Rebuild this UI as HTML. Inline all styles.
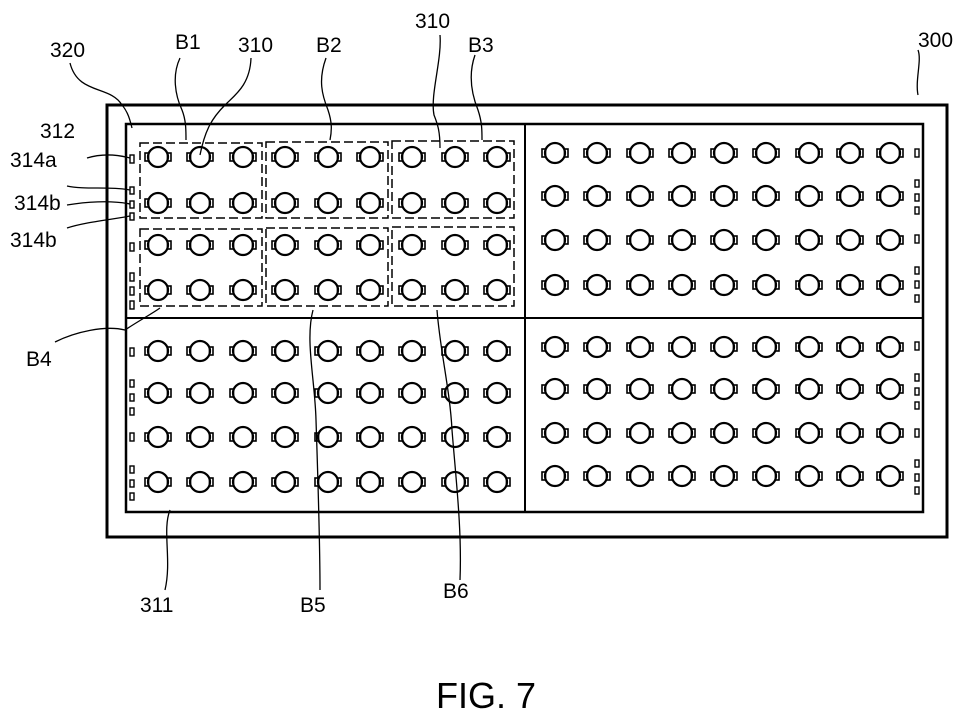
<!DOCTYPE html>
<html><head><meta charset="utf-8"><style>
html,body{margin:0;padding:0;background:#fff;}
svg{display:block;}
text{font-family:"Liberation Sans",sans-serif;font-size:21px;fill:#000;}
</style></head><body>
<svg width="980" height="720" viewBox="0 0 980 720">
<defs>
<g id="led"><circle cx="0" cy="0" r="10" fill="none" stroke="#000" stroke-width="2.2"/><rect x="-13" y="-4" width="3.5" height="8" fill="none" stroke="#000" stroke-width="1.6"/><rect x="9.5" y="-4" width="3.5" height="8" fill="none" stroke="#000" stroke-width="1.6"/></g>
<g id="rowL"><use href="#led" x="158"/><use href="#led" x="200"/><use href="#led" x="243"/><use href="#led" x="285"/><use href="#led" x="328"/><use href="#led" x="370"/><use href="#led" x="412"/><use href="#led" x="455"/><use href="#led" x="497"/></g>
<g id="rowR"><use href="#led" x="555"/><use href="#led" x="597"/><use href="#led" x="640"/><use href="#led" x="682"/><use href="#led" x="724"/><use href="#led" x="766"/><use href="#led" x="809"/><use href="#led" x="850"/><use href="#led" x="890"/></g>
</defs>
<rect x="107" y="105" width="840" height="432" fill="none" stroke="#000" stroke-width="3"/>
<rect x="126" y="124" width="797" height="388" fill="none" stroke="#000" stroke-width="2.5"/>
<line x1="525" y1="124" x2="525" y2="512" stroke="#000" stroke-width="2"/>
<line x1="126" y1="318" x2="923" y2="318" stroke="#000" stroke-width="2"/>
<use href="#rowL" y="157"/><use href="#rowL" y="203"/><use href="#rowL" y="245"/><use href="#rowL" y="290"/>
<use href="#rowL" y="351"/><use href="#rowL" y="393"/><use href="#rowL" y="437"/><use href="#rowL" y="482"/>
<use href="#rowR" y="153"/><use href="#rowR" y="196"/><use href="#rowR" y="240"/><use href="#rowR" y="285"/>
<use href="#rowR" y="347"/><use href="#rowR" y="389"/><use href="#rowR" y="433"/><use href="#rowR" y="476"/>
<g fill="none" stroke="#000" stroke-width="1.5" stroke-dasharray="9,4">
<rect x="140" y="143" width="122" height="75"/><rect x="266" y="142" width="122" height="76"/><rect x="392" y="141" width="122" height="77"/>
<rect x="140" y="229" width="122" height="77"/><rect x="266" y="228" width="122" height="78"/><rect x="392" y="227" width="122" height="79"/>
</g>
<g fill="none" stroke="#000" stroke-width="1.4">
<rect x="130" y="155" width="4" height="8"/><rect x="130" y="187" width="4" height="7"/><rect x="130" y="201" width="4" height="7"/><rect x="130" y="213" width="4" height="7"/>
<rect x="130" y="243" width="4" height="8"/><rect x="130" y="273" width="4" height="8"/><rect x="130" y="287" width="4" height="8"/><rect x="130" y="301" width="4" height="8"/>
<rect x="130" y="348" width="4" height="8"/><rect x="130" y="380" width="4" height="7"/><rect x="130" y="394" width="4" height="7"/><rect x="130" y="408" width="4" height="7"/>
<rect x="130" y="433" width="4" height="8"/><rect x="130" y="466" width="4" height="7"/><rect x="130" y="480" width="4" height="7"/><rect x="130" y="493" width="4" height="7"/>
<rect x="915" y="149" width="4" height="8"/><rect x="915" y="180" width="4" height="7"/><rect x="915" y="194" width="4" height="7"/><rect x="915" y="207" width="4" height="7"/>
<rect x="915" y="235" width="4" height="8"/><rect x="915" y="267" width="4" height="7"/><rect x="915" y="281" width="4" height="7"/><rect x="915" y="295" width="4" height="7"/>
<rect x="915" y="342" width="4" height="8"/><rect x="915" y="374" width="4" height="7"/><rect x="915" y="388" width="4" height="7"/><rect x="915" y="402" width="4" height="7"/>
<rect x="915" y="429" width="4" height="8"/><rect x="915" y="460" width="4" height="7"/><rect x="915" y="474" width="4" height="7"/><rect x="915" y="487" width="4" height="7"/>
</g>
<g fill="none" stroke="#000" stroke-width="1.3">
<path d="M70 63 C78 95,110 85,122 105 C128 112,130 120,132 128"/>
<path d="M180 58 C172 75,175 95,182 110 C186 120,186 130,186 140"/>
<path d="M251 58 C250 85,235 95,225 105 C212 118,205 130,200 155"/>
<path d="M326 58 C318 80,322 95,328 110 C332 122,332 130,330 140"/>
<path d="M440 35 C442 60,430 95,434 115 C438 125,440 132,440 148"/>
<path d="M475 55 C468 75,472 95,478 110 C482 122,482 130,482 140"/>
<path d="M918 50 C922 60,915 80,918 95"/>
<path d="M87 158 C100 154,115 154,130 158"/>
<path d="M67 186 C85 190,110 186,130 190"/>
<path d="M67 205 C85 202,110 200,130 204"/>
<path d="M67 228 C85 222,110 220,130 216"/>
<path d="M55 342 C75 332,105 325,125 330 C140 320,150 315,160 308"/>
<path d="M170 510 C162 530,172 560,165 590"/>
<path d="M313 310 C305 340,315 380,316 420 C318 480,320 540,320 590"/>
<path d="M437 310 C440 350,450 390,452 430 C456 480,462 530,460 580"/>
</g>
<text x="50" y="57">320</text>
<text x="175" y="49">B1</text>
<text x="238" y="52">310</text>
<text x="316" y="52">B2</text>
<text x="415" y="28">310</text>
<text x="468" y="52">B3</text>
<text x="918" y="47">300</text>
<text x="40" y="138">312</text>
<text x="10" y="167">314a</text>
<text x="14" y="210">314b</text>
<text x="10" y="247">314b</text>
<text x="26" y="366">B4</text>
<text x="140" y="612">311</text>
<text x="300" y="612">B5</text>
<text x="443" y="598">B6</text>
<text x="436" y="708" style="font-size:36px">FIG. 7</text>
</svg>
</body></html>
